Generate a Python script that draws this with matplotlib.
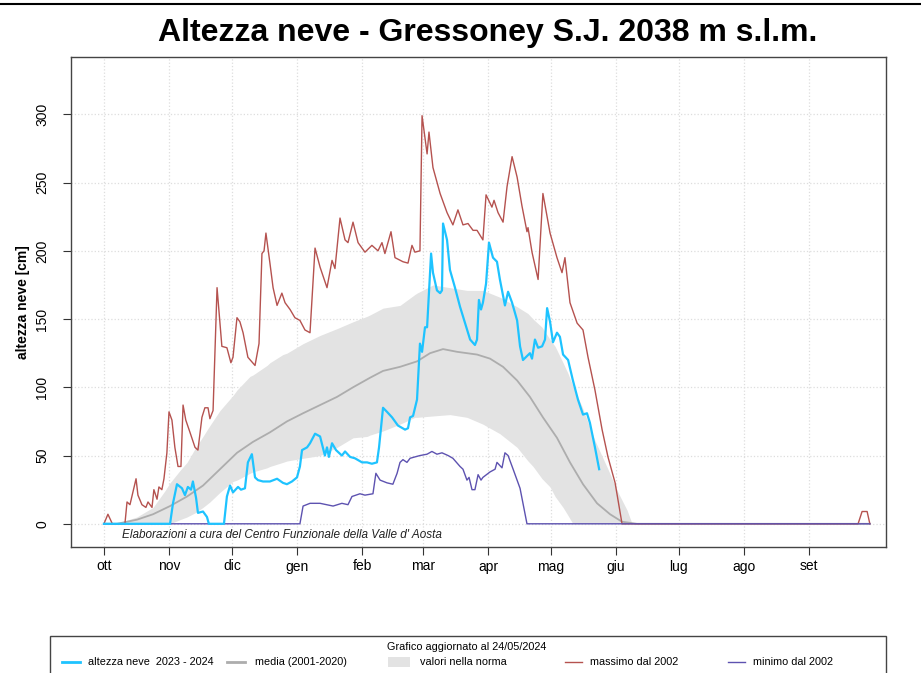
import matplotlib.pyplot as plt
from matplotlib.lines import Line2D
from matplotlib.patches import Rectangle

plt.rcParams['font.family'] = ['Liberation Sans', 'DejaVu Sans']

# days since 1 Oct 2023
mesi = ["ott", "nov", "dic", "gen", "feb", "mar", "apr", "mag", "giu", "lug", "ago", "set"]
mesi_giorni = [0, 31, 61, 92, 123, 152, 183, 213, 244, 274, 305, 336]

# stagione 2023-2024 (cm)
hs_giorni = [0, 31.5, 32.9, 34.8, 37.2, 38.6, 40, 41.5, 42.4, 43.9, 44.8, 47.2, 49.1, 50,
             57.2, 58.6, 60.1, 61.5, 63.9, 65.3, 67.2, 68.6, 70.5, 72, 73.4, 75.8, 79.1,
             82.5, 85.3, 87.2, 89.6, 92, 93.4, 94.4, 96.8, 98.2, 100.6, 103, 105.3, 106.3,
             107.2, 108.7, 110.6, 113.4, 114.9, 117.3, 119.6, 123, 125.4, 127.7, 130.1,
             131.1, 133, 134.9, 137.3, 140.1, 143.5, 144.9, 145.9, 147.3, 149.2, 150.6,
             151.6, 153, 154, 155.9, 156.8, 158.7, 160.2, 161.1, 161.6, 163.5, 164.9,
             167.3, 169.7, 172.1, 174.5, 176.8, 177.8, 178.7, 179.7, 180.6, 182.1, 183.5,
             185.4, 187.3, 188.7, 191.1, 192.6, 194.5, 196.9, 198.3, 199.7, 203, 204,
             205.4, 206.9, 208.8, 210.2, 211.2, 212.6, 214, 215.9, 217.3, 218.8, 221.2,
             223.5, 225.9, 228.3, 230.2, 231.6, 234, 236]
hs_valori = [0, 0, 15, 29, 26, 21, 27, 25, 31, 19, 8, 9, 5, 0,
             0, 20, 28, 23, 27, 25, 26, 45, 51, 34, 32, 31, 31,
             33, 30, 29, 31, 34, 42, 54, 56, 59, 66, 64, 50, 56,
             49, 59, 54, 50, 53, 49, 48, 45, 45, 44, 45,
             56, 85, 82, 78, 72, 69, 70, 78, 79, 91, 132,
             126, 144, 144, 198, 184, 171, 169, 171, 220, 208, 186,
             173, 159, 147, 135, 131, 135, 164, 157, 162, 176, 206,
             195, 192, 179, 160, 170, 162, 149, 130, 120, 125, 121,
             135, 129, 130, 135, 158, 148, 133, 140, 137, 124, 120,
             105, 91, 80, 81, 74, 56, 40]

# media 2001-2020
media_giorni = [0, 6.2, 15.7, 23.4, 31.5, 39.6, 47.2, 55.3, 63.4, 71, 79.1, 87.2, 94.9, 103,
                111.1, 118.7, 126.8, 133, 141.1, 149.2, 155.4, 161.6, 168.3, 177.8, 184,
                190.2, 196.9, 203, 209.2, 215.9, 222.1, 228.3, 235, 241.2, 246.9, 254, 365]
media_valori = [0, 0, 3, 7, 13, 20, 28, 40, 52, 60, 67, 75, 81, 87,
                93, 100, 107, 112, 115, 119, 125, 128, 126, 124, 121,
                115, 105, 93, 78, 63, 45, 29, 15, 7, 1.5, 0, 0]

# valori nella norma (fascia)
norma_giorni = [0, 7.6, 15.7, 23.4, 29, 31.5, 36.2, 39.6, 43.4, 47.2, 50.5, 55.3, 61.5, 63.4,
                69.6, 71, 77.7, 79.1, 85.3, 87.2, 94.9, 103, 111.1, 118.7, 125.4, 126.8, 133,
                141.1, 148.2, 149.2, 156.8, 164.9, 173, 180.6, 188.7, 196.9, 202.1, 204.5,
                208.8, 212.6, 215, 218.8, 221.2, 223.5, 227.8, 234, 240.2, 245, 249.3,
                251.7, 365]
norma_sup = [0, 1, 5, 12, 24, 30, 39, 45, 55, 64, 72, 83, 94, 98,
             108, 109, 116, 118, 124, 125, 132, 138, 143, 148, 152, 153, 158,
             160, 168, 169, 175, 173, 171, 171, 166, 159, 154, 150,
             144, 135, 130, 118, 110, 101, 86, 61, 40, 23, 10,
             0, 0]
norma_inf = [0, 0, 0, 0, 0, 0, 3, 5, 8, 12, 16, 23, 31, 32,
             37, 38, 41, 42, 45, 46, 48, 50, 56, 63, 64, 65, 68,
             73, 78, 78, 79, 80, 78, 73, 66, 56, 46, 42,
             33, 27, 20, 12, 6, 0, 0, 0, 0, 0, 0,
             0, 0]

# massimo dal 2002
max_giorni = [0, 1.9, 4, 10, 11, 12.4, 15.3, 16.2, 18.1, 20, 21, 22.9, 23.8, 25.3, 26.2,
              27.6, 28.6, 30, 31, 32.4, 33.8, 35.3, 36.7, 37.7, 39, 41, 43.4, 44.8, 46.7,
              48.1, 49.6, 50.5, 52, 53.9, 56.2, 58.6, 60.5, 61.5, 63.4, 64.8, 66.3, 68.6,
              72, 73.9, 75.3, 76.3, 77.2, 79.1, 80.6, 82.5, 84.8, 86.3, 88.7, 91, 93.4,
              95.8, 98.2, 100.6, 103, 106.3, 108.7, 110.1, 112.5, 114.9, 116.3, 118.7,
              121.1, 124.4, 127.7, 130.6, 132.5, 133.9, 136.8, 138.7, 142.5, 144.9, 146.8,
              148.2, 150.6, 151.6, 154, 154.9, 156.8, 160.2, 163.5, 166.3, 168.7, 171.1,
              173.5, 175.9, 177.8, 180.6, 182.1, 184.9, 185.9, 187.8, 190.2, 192.1, 194.5,
              196.9, 199.2, 201.6, 202.1, 204, 206.9, 209.2, 212.6, 215.9, 218.3, 219.7,
              222.1, 225.5, 228.3, 230.7, 234, 237.4, 240.2, 243.6, 246.9, 359.4, 361.3,
              363.7, 365]
max_valori = [0, 7, 0, 0, 16, 14, 33, 21, 14, 12, 16, 12, 25, 18, 27,
              25, 33, 52, 82, 76, 56, 42, 42, 87, 76, 67, 56, 54, 78,
              85, 85, 77, 83, 173, 130, 129, 118, 122, 151, 148, 140, 122,
              116, 132, 198, 200, 213, 191, 173, 160, 169, 162, 157, 151, 149,
              142, 140, 202, 188, 173, 193, 187, 224, 208, 206, 221,
              206, 199, 204, 200, 206, 198, 214, 195, 192, 191, 204,
              199, 200, 299, 271, 287, 261, 242, 228, 219, 230, 219,
              220, 215, 215, 208, 241, 232, 237, 228, 221, 247, 269,
              254, 233, 214, 217, 199, 179, 242, 213, 195, 184, 195,
              162, 147, 142, 122, 98, 69, 49, 30, 0, 0, 9,
              9, 0]

# minimo dal 2002
min_giorni = [0, 93.4, 94.9, 98.2, 103, 109.2, 113.4, 116.3, 118.2, 122, 124.4, 128.2,
              129.6, 131.6, 134.9, 137.7, 139.7, 141.1, 142.5, 144.4, 145.9, 148.2, 150.6,
              154, 156.3, 158.7, 161.1, 164, 166.3, 169.7, 171.1, 173, 174, 175.4, 176.8,
              178.3, 179.7, 180.6, 184, 186.4, 187.3, 189.7, 191.1, 192.6, 195, 198.3,
              201.6, 365]
min_valori = [0, 0, 13, 15, 15, 13, 15, 14, 20, 22, 21, 22,
              37, 32, 30, 29, 37, 45, 47, 45, 48, 49, 50,
              51, 53, 51, 52, 50, 48, 42, 40, 32, 34, 25, 25,
              36, 32, 34, 38, 40, 45, 41, 52, 50, 40, 26,
              0, 0]

fig = plt.figure(figsize=(9.21, 6.73), dpi=100)
ax = fig.add_axes([71 / 921, 1 - 547 / 673, (886 - 71) / 921, (547 - 57) / 673])

ax.fill_between(norma_giorni, norma_inf, norma_sup, color="#e3e3e3", lw=0, zorder=1)
ax.plot(media_giorni, media_valori, color="#adadad", lw=1.3, zorder=2)
ax.plot(max_giorni, max_valori, color="#b5524f", lw=1.0, zorder=3)
ax.plot(min_giorni, min_valori, color="#5d52b0", lw=1.0, zorder=3)
ax.plot(hs_giorni, hs_valori, color="#1ec3ff", lw=1.6, zorder=4)

ax.set_xlim(-15.7, 372.7)
ax.set_ylim(-17, 342)
ax.set_xticks(mesi_giorni)
ax.set_xticklabels(mesi, fontsize=10)
ax.set_yticks([0, 50, 100, 150, 200, 250, 300])
ax.set_yticklabels(["0", "50", "100", "150", "200", "250", "300"], fontsize=10,
                   rotation=90, va="center")
ax.tick_params(axis="both", direction="out", length=5.5, width=0.8, color="#333333")
ax.tick_params(axis="x", pad=3.5)
ax.tick_params(axis="y", pad=10)
ax.grid(True, color="#dddddd", linestyle=":", lw=0.9)
ax.set_axisbelow(True)
for s in ax.spines.values():
    s.set_color("#444444")
    s.set_linewidth(1.0)

ax.set_ylabel("altezza neve [cm]", fontsize=10, fontweight="bold", labelpad=4)
ax.text(0.063, 0.018, "Elaborazioni a cura del Centro Funzionale della Valle d' Aosta",
        transform=ax.transAxes, fontsize=8.5, style="italic", color="#222222")

fig.text(488 / 921, 1 - 33 / 673, "Altezza neve - Gressoney S.J. 2038 m s.l.m.",
         ha="center", va="center", fontsize=23, fontweight="bold")
fig.add_artist(Line2D([0, 1], [1 - 4 / 673, 1 - 4 / 673], color="black", lw=1.5))

# legenda
fig.add_artist(Rectangle((50 / 921, -0.02), (886 - 50) / 921, 0.02 + 1 - 636 / 673,
                         fill=False, edgecolor="#444444", lw=1.0))
fig.text(467 / 921, 1 - 647 / 673, "Grafico aggiornato al 24/05/2024",
         ha="center", va="center", fontsize=7.8)
yl = 1 - 662 / 673
voci = [("altezza neve  2023 - 2024", "#1ec3ff", 62, 80, 88, 2.0),
        ("media (2001-2020)", "#adadad", 227, 245, 255, 2.0),
        ("massimo dal 2002", "#b5524f", 565, 582, 590, 1.0),
        ("minimo dal 2002", "#5d52b0", 728, 745, 753, 1.0)]
for testo, col, x0, x1, xt, w in voci:
    fig.add_artist(Line2D([x0 / 921, x1 / 921], [yl, yl], color=col, lw=w))
    fig.text(xt / 921, yl, testo, ha="left", va="center", fontsize=7.8)
fig.add_artist(Rectangle((388 / 921, yl - 5 / 673), 22 / 921, 10 / 673,
                         facecolor="#e3e3e3", edgecolor="none"))
fig.text(420 / 921, yl, "valori nella norma", ha="left", va="center", fontsize=7.8)

fig.savefig("out.png", dpi=100)
